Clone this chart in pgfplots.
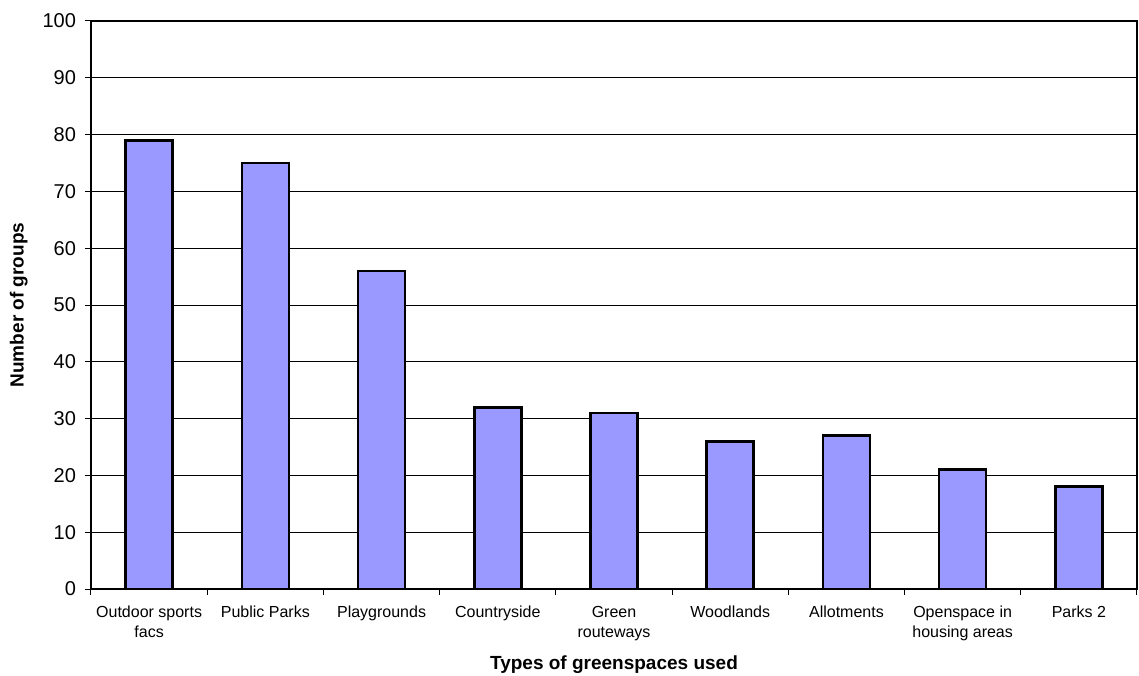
\documentclass[border=0pt]{standalone}
\usepackage{pgfplots}
\pgfplotsset{compat=1.18}
\usepackage{fontspec}
\setmainfont{Liberation Sans}
\definecolor{barblue}{HTML}{9999FF}
\begin{document}
\begin{tikzpicture}
\useasboundingbox (-45.5pt,-43pt) rectangle (524pt,294.5pt);
\begin{axis}[
  at={(0,0)}, anchor=south west,
  scale only axis,
  width=523pt, height=284pt,
  xmin=-0.5, xmax=8.5,
  ymin=0, ymax=100,
  ytick={0,10,...,100},
  xtick={0,...,8},
  xticklabels={Outdoor sports\\facs, Public Parks, Playgrounds, Countryside, Green\\routeways, Woodlands, Allotments, Openspace in\\housing areas, Parks 2},
  x tick label style={font=\fontsize{8}{10}\selectfont, align=center, anchor=north, yshift=-2pt},
  y tick label style={font=\fontsize{10}{11}\selectfont, xshift=-1pt},
  /pgf/number format/assume math mode=true,
  major x tick style={draw=none},
  minor xtick={-0.5,0.5,...,8.5},
  minor x tick style={black, line width=0.5pt},
  xtick pos=bottom, ytick pos=left,
  tick align=outside,
  major tick length=3pt, minor tick length=3pt,
  y tick style={black, line width=0.5pt},
  ymajorgrids,
  grid style={black, line width=0.4pt},
  axis line style={black, line width=1.3pt},
  xlabel={\bfseries Types of greenspaces used},
  ylabel={\bfseries Number of groups},
  xlabel style={font=\fontsize{9.5}{11}\selectfont, at={(axis description cs:0.5,0)}, anchor=center, yshift=-38pt},
  ylabel style={font=\fontsize{9.5}{11}\selectfont, at={(axis description cs:-0.069,0.5)}, anchor=center},
]
\addplot[ybar, bar width=23.5pt, fill=barblue, draw=black, line width=1.3pt] coordinates {
 (0,79) (1,75) (2,56) (3,32) (4,31) (5,26) (6,27) (7,21) (8,18)
};
\end{axis}
\end{tikzpicture}
\end{document}
